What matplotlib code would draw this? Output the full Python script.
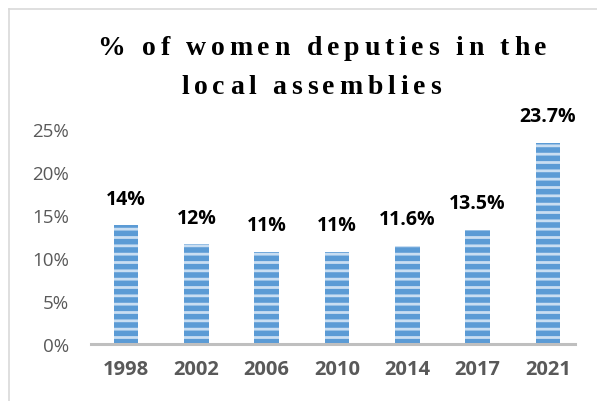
import matplotlib
matplotlib.use("Agg")
import matplotlib.pyplot as plt
from matplotlib.lines import Line2D
from matplotlib.font_manager import FontProperties

years = ["1998", "2002", "2006", "2010", "2014", "2017", "2021"]
shares = [13.8, 11.6, 10.7, 10.7, 11.4, 13.3, 23.4]
value_labels = ["14%", "12%", "11%", "11%", "11.6%", "13.5%", "23.7%"]
y_ticks = [0, 5, 10, 15, 20, 25]
title_lines = ["% of women deputies in the", "local assemblies"]

W, H = 597, 402
plt.rcParams["hatch.linewidth"] = 2.0

fig = plt.figure(figsize=(W / 100, H / 100), dpi=100)
ax = fig.add_axes([91 / W, 1 - 345 / H, (583 - 91) / W, (345 - 130) / H])

x = range(len(years))
ax.bar(x, shares, width=0.35, color="#5B9BD5", edgecolor="#C9DEF2",
       linewidth=0, hatch="--")

for xi, v, lab in zip(x, shares, value_labels):
    ax.annotate(lab, (xi, v), xytext=(0, 12), textcoords="offset points",
                ha="center", va="bottom", fontsize=14, fontweight="bold",
                family="Open Sans", color="black", annotation_clip=False)

ax.set_xlim(-0.5, len(years) - 0.5)
ax.set_ylim(0, 25)
ax.set_yticks(y_ticks)
ax.set_yticklabels([f"{t}%" for t in y_ticks], family="Open Sans",
                   fontsize=13.5, color="#595959")
ax.set_xticks(list(x))
ax.set_xticklabels(years, family="Open Sans", fontsize=14.5,
                   fontweight="bold", color="#595959")
ax.tick_params(axis="y", length=0, pad=16)
ax.tick_params(axis="x", length=0, pad=11)
for s in ax.spines.values():
    s.set_visible(False)
ax.axhline(0, xmin=0, xmax=0.984, color="#BFBFBF", lw=2.2, clip_on=False)

# outer frame (only top and left edges visible)
fig.add_artist(Line2D([8.5 / W, 8.5 / W], [0, 1 - 9.5 / H], color="#D9D9D9", lw=1.2))
fig.add_artist(Line2D([8.5 / W, 1], [1 - 9.5 / H, 1 - 9.5 / H], color="#D9D9D9", lw=1.2))

# title with wide letter spacing, drawn char by char
renderer = fig.canvas.get_renderer()
tprop = FontProperties(family="Liberation Serif", weight="bold", size=20)


def char_widths(s):
    out = []
    for ch in s:
        w, _, _ = renderer.get_text_width_height_descent(ch, tprop, ismath=False)
        out.append(w)
    return out


tracking = None
for line, xc, base in zip(title_lines, [322, 311], [55, 94]):
    ws = char_widths(line)
    if tracking is None:
        tracking = (449 - sum(ws)) / (len(line) - 1)
    total = sum(ws) + tracking * (len(line) - 1)
    xp = xc - total / 2
    for ch, w in zip(line, ws):
        fig.text(xp / W, 1 - base / H, ch, fontproperties=tprop,
                 ha="left", va="baseline", color="black")
        xp += w + tracking

fig.savefig("out.png", dpi=100)
